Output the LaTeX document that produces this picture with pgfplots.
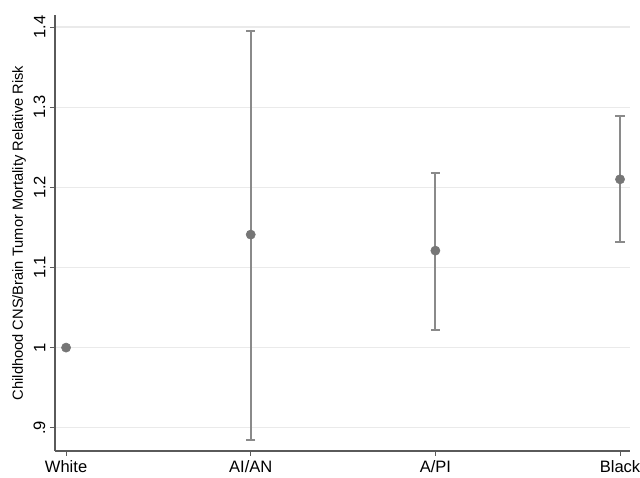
\documentclass[border=0pt]{standalone}
\usepackage{fontspec}
\setmainfont{Liberation Sans}
\usepackage{pgfplots}
\pgfplotsset{compat=1.18}
\definecolor{mk}{RGB}{118,118,118}
\definecolor{eb}{RGB}{138,138,138}
\definecolor{gr}{RGB}{234,234,234}
\definecolor{ax}{RGB}{90,90,90}
\begin{document}
\begin{tikzpicture}
\useasboundingbox (0,0) rectangle (480pt,358.5pt);
\begin{axis}[
  at={(41.25pt,20.25pt)}, anchor=south west,
  scale only axis, width=431.25pt, height=327pt,
  xmin=-0.06, xmax=3.054, ymin=0.871, ymax=1.415,
  axis x line*=bottom, axis y line*=left,
  axis line style={-, ax, line width=0.9pt},
  xtick={0,1,2,3}, xticklabels={White,AI/AN,A/PI,Black},
  ytick={0.9,1,1.1,1.2,1.3,1.4}, yticklabels={.9,1,1.1,1.2,1.3,1.4},
  tick align=outside, major tick length=3.75pt,
  tick style={ax, line width=0.7pt},
  ymajorgrids, xmajorgrids=false,
  grid style={gr, line width=0.8pt},
  yticklabel style={rotate=90, anchor=south, font=\fontsize{12.4}{14}\selectfont},
  xticklabel style={font=\fontsize{12.4}{14}\selectfont},
  ylabel={Childhood CNS/Brain Tumor Mortality Relative Risk},
  ylabel style={at={(axis description cs:-0.0626,0.5)}, anchor=center, font=\fontsize{11}{13}\selectfont},
]
\addplot[only marks, mark=*, mark size=3.45pt, mark options={fill=mk, draw=mk},
  error bars/.cd, y dir=both, y explicit,
  error bar style={eb, line width=1.4pt},
  error mark options={eb, rotate=90, mark size=3.4pt, line width=1.4pt}]
  table[x=x, y=y, y error plus=ep, y error minus=em] {
x y ep em
1 1.141 0.254 0.256
2 1.121 0.097 0.099
3 1.210 0.079 0.078
};
\addplot[only marks, mark=*, mark size=3.45pt, mark options={fill=mk, draw=mk}]
  table[x=x, y=y] {
x y
0 1.0
};
\end{axis}
\end{tikzpicture}
\end{document}
